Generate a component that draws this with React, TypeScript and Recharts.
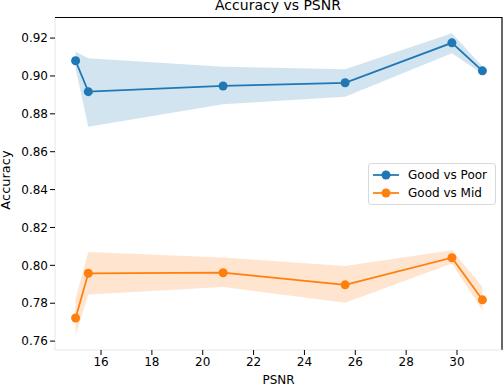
import {
  Area,
  ComposedChart,
  Line,
  ReferenceLine,
  XAxis,
  YAxis,
} from "recharts";

const psnr = [15.0, 15.5, 20.8, 25.6, 29.8, 31.0];

const poorMean = [0.908, 0.8917, 0.8947, 0.8964, 0.9175, 0.9027];
const poorLow = [0.904, 0.8732, 0.885, 0.889, 0.912, 0.901];
const poorHigh = [0.9128, 0.9093, 0.9049, 0.9036, 0.9225, 0.905];

const midMean = [0.7722, 0.7958, 0.7961, 0.7897, 0.804, 0.7818];
const midLow = [0.763, 0.7846, 0.7885, 0.7802, 0.801, 0.7763];
const midHigh = [0.7825, 0.807, 0.8042, 0.7996, 0.808, 0.7886];

const xTicks = [16, 18, 20, 22, 24, 26, 28, 30];
const yTicks = [0.76, 0.78, 0.8, 0.82, 0.84, 0.86, 0.88, 0.9, 0.92];

const BLUE = "#1f77b4";
const ORANGE = "#ff7f0e";
const FONT = "DejaVu Sans, sans-serif";

const rows = psnr.map((x, i) => ({
  psnr: x,
  poor: poorMean[i],
  poorBand: [poorLow[i], poorHigh[i]],
  mid: midMean[i],
  midBand: [midLow[i], midHigh[i]],
}));

const xDomain: [number, number] = [14.19, 31.77];
const yDomain: [number, number] = [0.7553, 0.9306];

function LegendBox(): JSX.Element {
  const items = [
    { label: "Good vs Poor", color: BLUE },
    { label: "Good vs Mid", color: ORANGE },
  ];
  return (
    <div
      style={{
        position: "absolute",
        left: 368,
        top: 163,
        zIndex: 3,
        border: "1px solid #d9d9d9",
        borderRadius: 3,
        background: "rgba(255,255,255,0.8)",
        padding: "2px 6px 2px 3px",
        fontFamily: FONT,
        fontSize: 12,
        color: "#000",
        width: 128,
        boxSizing: "border-box",
        whiteSpace: "nowrap",
      }}
    >
      {items.map((it) => (
        <div key={it.label} style={{ display: "flex", alignItems: "center", height: 18 }}>
          <svg width={28} height={12} style={{ marginRight: 8 }}>
            <line x1={1} y1={6} x2={27} y2={6} stroke={it.color} strokeWidth={1.75} />
            <circle cx={14} cy={6} r={4.5} fill={it.color} />
          </svg>
          <span>{it.label}</span>
        </div>
      ))}
    </div>
  );
}

export default function App(): JSX.Element {
  return (
    <div style={{ position: "absolute", left: 0, top: 0, width: 504, height: 386, background: "#fff" }}>
      <LegendBox />
      <ComposedChart
        width={504}
        height={386}
        data={rows}
        margin={{ top: 18, right: 2, left: 0, bottom: 0 }}
        style={{ fontFamily: FONT }}
      >
        <XAxis
          dataKey="psnr"
          type="number"
          domain={xDomain}
          ticks={xTicks}
          allowDataOverflow
          height={36}
          axisLine={{ stroke: "#e6e6e6" }}
          tickLine={{ stroke: "#000" }}
          tickSize={5}
          tick={{ fontSize: 12, fill: "#000", fontFamily: FONT }}
          label={{ value: "PSNR", position: "insideBottom", offset: 2, fontSize: 12, fill: "#000", fontFamily: FONT }}
        />
        <YAxis
          type="number"
          domain={yDomain}
          ticks={yTicks}
          allowDataOverflow
          width={55}
          axisLine={{ stroke: "#e6e6e6" }}
          tickLine={{ stroke: "#000" }}
          tickSize={5}
          tickFormatter={(v: number) => v.toFixed(2)}
          tick={{ fontSize: 12, fill: "#000", fontFamily: FONT }}
        />
        <ReferenceLine x={xDomain[1]} stroke="#000" strokeWidth={1.2} ifOverflow="extendDomain" />
        <Area
          dataKey="poorBand"
          type="linear"
          stroke="none"
          fill={BLUE}
          fillOpacity={0.2}
          isAnimationActive={false}
          legendType="none"
        />
        <Area
          dataKey="midBand"
          type="linear"
          stroke="none"
          fill={ORANGE}
          fillOpacity={0.2}
          isAnimationActive={false}
          legendType="none"
        />
        <Line
          dataKey="poor"
          name="Good vs Poor"
          type="linear"
          stroke={BLUE}
          strokeWidth={1.75}
          dot={{ r: 4.5, fill: BLUE, stroke: BLUE, strokeWidth: 0 }}
          activeDot={false}
          isAnimationActive={false}
        />
        <Line
          dataKey="mid"
          name="Good vs Mid"
          type="linear"
          stroke={ORANGE}
          strokeWidth={1.75}
          dot={{ r: 4.5, fill: ORANGE, stroke: ORANGE, strokeWidth: 0 }}
          activeDot={false}
          isAnimationActive={false}
        />
      </ComposedChart>
      <svg
        width={504}
        height={386}
        style={{ position: "absolute", left: 0, top: 0, zIndex: 2, pointerEvents: "none" }}
      >
        {/* top spine of the frame */}
        <line x1={55} y1={17.5} x2={502.6} y2={17.5} stroke="#000" strokeWidth={1.2} />
        <text x={278} y={10} textAnchor="middle" fontFamily={FONT} fontSize={14} fill="#000">
          Accuracy vs PSNR
        </text>
        <text
          x={0}
          y={0}
          transform="translate(10,180) rotate(-90)"
          textAnchor="middle"
          fontFamily={FONT}
          fontSize={13}
          fill="#000"
        >
          Accuracy
        </text>
      </svg>
    </div>
  );
}
